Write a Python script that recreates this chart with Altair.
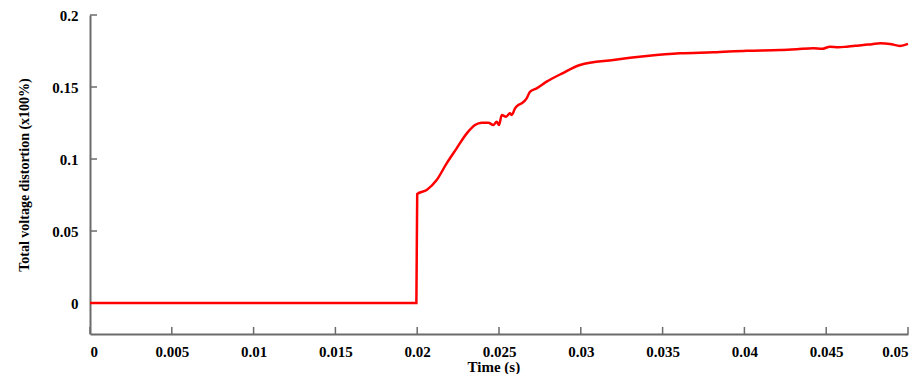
import altair as alt
import pandas as pd

# Time (s) and THD values
time_s = [0.0, 0.005, 0.01, 0.015, 0.01995, 0.0200,
          0.02058, 0.02119, 0.02180, 0.02241, 0.02303, 0.02353, 0.02394, 0.02435,
          0.02465, 0.02486, 0.02500, 0.02517, 0.02543, 0.02567, 0.02578, 0.02598,
          0.02618, 0.02639, 0.02669, 0.02689, 0.02730, 0.02791, 0.02891, 0.02995,
          0.03199, 0.03403, 0.03606, 0.03810, 0.04014, 0.04218, 0.04320, 0.04421,
          0.04475, 0.04523, 0.04575, 0.04625, 0.04680, 0.04727, 0.04780, 0.04829,
          0.04890, 0.04951, 0.05]
thd = [0.0, 0.0, 0.0, 0.0, 0.0, 0.0757,
       0.0785, 0.0854, 0.0970, 0.1074, 0.1178, 0.1236, 0.1252, 0.1252,
       0.1236, 0.1259, 0.1236, 0.1306, 0.1294, 0.1317, 0.1306, 0.1352,
       0.1375, 0.1387, 0.1421, 0.1467, 0.1491, 0.1537, 0.1597, 0.1653,
       0.1688, 0.1715, 0.1734, 0.1741, 0.1752, 0.1757, 0.1763, 0.1769,
       0.1765, 0.1780, 0.1776, 0.1780, 0.1786, 0.1792, 0.1797, 0.1803,
       0.1799, 0.1785, 0.1799]

x_ticks = [0, 0.005, 0.01, 0.015, 0.02, 0.025, 0.03, 0.035, 0.04, 0.045, 0.05]
y_ticks = [0, 0.05, 0.1, 0.15, 0.2]

Y_MIN, Y_MAX = -0.0215, 0.2
X_MIN, X_MAX = 0.0, 0.05

df = pd.DataFrame({"t": time_s, "v": thd})
xt = pd.DataFrame({"x": x_ticks, "y": [Y_MIN] * len(x_ticks), "y2": [Y_MIN + 0.0049] * len(x_ticks)})
yt = pd.DataFrame({"y": y_ticks, "x": [X_MIN] * len(y_ticks), "x2": [X_MIN + 0.00043] * len(y_ticks)})

FONT = "Liberation Serif"
xscale = alt.Scale(domain=[X_MIN, X_MAX], nice=False, zero=False)
yscale = alt.Scale(domain=[Y_MIN, Y_MAX], nice=False, zero=False)

line = alt.Chart(df).mark_line(color="#ff0000", strokeWidth=2.5, interpolate="monotone").encode(
    x=alt.X("t:Q", scale=xscale,
            axis=alt.Axis(values=x_ticks, title="Time (s)", ticks=False, grid=False,
                          labelExpr="format(datum.value, '~g')", labelPadding=10,
                          titleFontSize=15, titleX=377, titleY=37,
                          titleAnchor="start", titleBaseline="alphabetic")),
    y=alt.Y("v:Q", scale=yscale,
            axis=alt.Axis(values=y_ticks, title="Total voltage distortion (x100%)",
                          ticks=False, grid=False,
                          labelExpr="format(datum.value, '~g')", labelPadding=12,
                          titlePadding=20)),
)

xtick_rules = alt.Chart(xt).mark_rule(color="#6b6b6b", strokeWidth=1.5).encode(
    x="x:Q", y="y:Q", y2="y2:Q")
ytick_rules = alt.Chart(yt).mark_rule(color="#6b6b6b", strokeWidth=1.5).encode(
    y="y:Q", x="x:Q", x2="x2:Q")

chart = alt.layer(xtick_rules, ytick_rules, line).properties(
    width=818, height=319,
    autosize=alt.AutoSizeParams(type="none"),
    padding={"left": 82, "top": 7, "right": 6, "bottom": 40},
).configure_view(stroke=None).configure_axis(
    labelFont=FONT, titleFont=FONT, labelFontSize=15, titleFontSize=14,
    labelFontWeight="bold", titleFontWeight="bold",
    labelColor="#000000", titleColor="#000000",
    domainColor="#6b6b6b", domainWidth=2,
)

chart.save("out.html", embed_options={"renderer": "svg", "actions": False})
